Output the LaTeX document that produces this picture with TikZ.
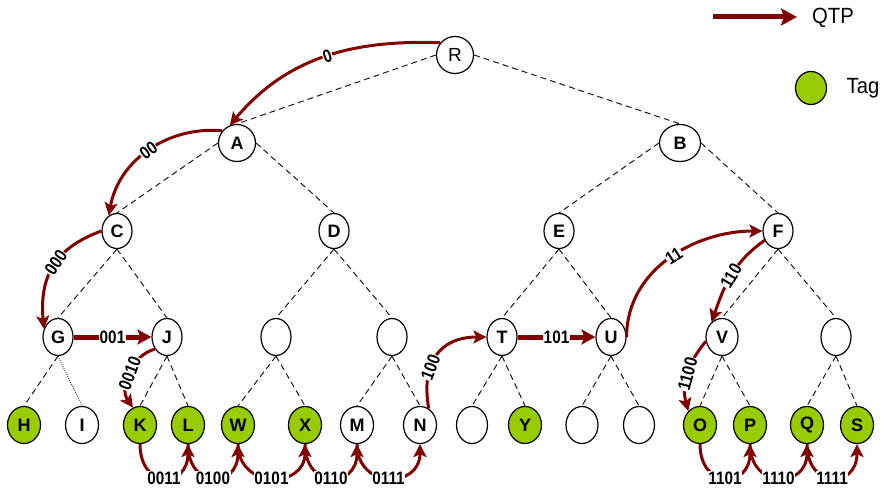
\documentclass[tikz,border=0pt]{standalone}
\usepackage{fontspec}
\setmainfont{Liberation Sans}
\newfontfamily\labfont[FakeStretch=0.85]{Liberation Sans}
\newfontfamily\legfont[FakeStretch=0.92]{Liberation Sans}
\usetikzlibrary{arrows.meta,shapes.geometric}
\definecolor{qred}{RGB}{128,0,0}
\definecolor{tagg}{RGB}{153,204,0}
\tikzset{
  nd/.style={ellipse, draw=black, line width=1.2pt, inner sep=0pt, font=\bfseries\fontsize{18}{18}\selectfont},
  leafnd/.style={nd, minimum width=33pt, minimum height=37pt},
  midnd/.style={nd, minimum width=30pt, minimum height=37pt},
  upnd/.style={nd, minimum width=30pt, minimum height=35pt},
  tagged/.style={fill=tagg},
  treeedge/.style={draw=black!90, line width=1pt, dash pattern=on 6pt off 4pt},
  dotedge/.style={draw=black!85, line width=0.8pt, dash pattern=on 1pt off 1.2pt},
  qtp/.style={draw=qred, line width=3pt, -{Stealth[length=13pt,width=13pt,inset=3pt]}},
  qtps/.style={qtp, line width=5pt, -{Stealth[length=14pt,width=15pt,inset=3pt]}},
  lab/.style={fill=white, inner sep=0.6pt, text=black, font=\labfont\bfseries\fontsize{18}{18}\selectfont},
  legtext/.style={font=\legfont\fontsize{22}{22}\selectfont, inner sep=0pt}
}
\begin{document}
\begin{tikzpicture}[x=1pt,y=1pt]
\useasboundingbox (0,0) rectangle (888,-497);
% level 0-1
\node[nd, minimum width=37pt, minimum height=37pt, font=\fontsize{19}{19}\selectfont] (R) at (455,-55) {R};
\node[nd, minimum width=37pt, minimum height=37pt] (A) at (237,-143) {A};
\node[nd, minimum width=41pt, minimum height=37pt] (B) at (680,-143) {B};
% level 2
\node[upnd] (C) at (117,-231) {C};
\node[upnd] (D) at (334,-231) {D};
\node[upnd] (E) at (559,-231) {E};
\node[upnd] (F) at (778,-231) {F};
% level 3
\node[midnd] (G) at (58,-337) {G};
\node[midnd] (J) at (167,-337) {J};
\node[midnd] (e1) at (276,-337) {};
\node[midnd] (e2) at (392,-337) {};
\node[midnd] (T) at (502,-337) {T};
\node[midnd] (U) at (611,-337) {U};
\node[midnd, minimum width=32pt] (V) at (722,-337) {V};
\node[midnd] (e3) at (836,-337) {};
% level 4
\node[leafnd, tagged] (H) at (24,-425) {H};
\node[leafnd] (I) at (82,-425) {I};
\node[leafnd, tagged] (K) at (140,-425) {K};
\node[leafnd, tagged] (L) at (188,-425) {L};
\node[leafnd, tagged] (W) at (238,-425) {W};
\node[leafnd, tagged] (X) at (305,-425) {X};
\node[leafnd] (M) at (357,-425) {M};
\node[leafnd] (N) at (420,-425) {N};
\node[leafnd, minimum width=31pt] (e4) at (472,-425) {};
\node[leafnd, tagged] (Y) at (525,-425) {Y};
\node[leafnd, minimum width=32pt] (e5) at (582,-425) {};
\node[leafnd, minimum width=31pt] (e6) at (639,-425) {};
\node[leafnd, tagged] (O) at (700,-425) {O};
\node[leafnd, tagged] (P) at (750,-425) {P};
\node[leafnd, tagged] (Q) at (807,-425) {Q};
\node[leafnd, tagged] (S) at (857,-425) {S};
% tree edges
\draw[treeedge] (R.west) -- (A.north);
\draw[treeedge] (R.east) -- (B.north);
\draw[treeedge] (A.west) -- (C.north);
\draw[treeedge] (A.east) -- (D.north);
\draw[treeedge] (B.west) -- (E.north);
\draw[treeedge] (B.east) -- (F.north);
\foreach \p/\c in {C/G,C/J,D/e1,D/e2,E/T,E/U,F/V,F/e3,G/H,J/K,J/L,e1/W,e1/X,e2/M,e2/N,T/e4,T/Y,U/e5,U/e6,V/O,V/P,e3/Q,e3/S}
  \draw[treeedge] (\p.south) -- (\c.north);
\draw[dotedge] (G.south) -- (I.north);
% QTP arrows
\draw[qtp] (R.140) to[out=178,in=50] node[lab, sloped, pos=0.48]{0} (A.112);
\draw[qtp] (A.140) to[out=175,in=80] node[lab, sloped]{00} (C.118);
\draw[qtp] (C.west) to[out=200,in=95,looseness=1.15] node[lab, sloped, pos=0.45]{000} (G.150);
\draw[qtps] (G.east) -- node[lab]{001} (J.west);
\draw[qtp] (J.225) to[out=195,in=125] node[lab, sloped]{0010} (K.112);
\draw[qtp] (K.south) .. controls +(0,-45) and +(0,-45) .. node[lab]{0011} (L.south);
\draw[qtp] (L.south) .. controls +(0,-45) and +(0,-45) .. node[lab]{0100} (W.south);
\draw[qtp] (W.south) .. controls +(0,-45) and +(0,-45) .. node[lab]{0101} (X.south);
\draw[qtp] (X.south) .. controls +(0,-45) and +(0,-45) .. node[lab]{0110} (M.south);
\draw[qtp] (M.south) .. controls +(0,-45) and +(0,-45) .. node[lab]{0111} (N.south);
\draw[qtp] (N.62) to[out=100,in=180,looseness=1.3] node[lab, sloped, pos=0.36]{100} (T.west);
\draw[qtps] (T.east) -- node[lab]{101} (U.west);
\draw[qtp] (U.east) to[out=90,in=180] node[lab, sloped, pos=0.53]{11} (F.west);
\draw[qtp] (F.215) to[out=215,in=71] node[lab, sloped]{110} (V.125);
\draw[qtp] (V.195) to[out=230,in=105] node[lab, sloped]{1100} (O.130);
\draw[qtp] (O.south) .. controls +(0,-45) and +(0,-45) .. node[lab]{1101} (P.south);
\draw[qtp] (P.south) .. controls +(0,-45) and +(0,-45) .. node[lab]{1110} (Q.south);
\draw[qtp] (Q.south) .. controls +(0,-45) and +(0,-45) .. node[lab]{1111} (S.south);
% legend
\coordinate (la) at (713,-17);
\coordinate (lb) at (797,-17);
\draw[draw=qred, line width=5pt, -{Stealth[length=16pt,width=17pt,inset=3pt]}] (la) -- (lb);
\node[legtext] (qtpt) at (833,-18) {QTP};
\node[nd, tagged, minimum width=31pt, minimum height=33pt] (legtag) at (811,-88) {};
\node[legtext] (tagt) at (863,-88) {Tag};
\end{tikzpicture}
\end{document}
